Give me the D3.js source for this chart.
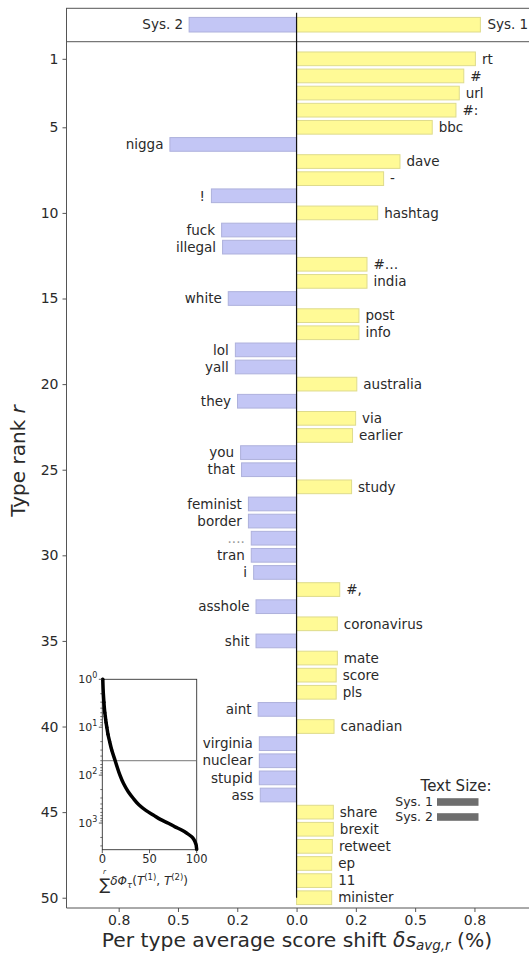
<!DOCTYPE html>
<html><head><meta charset="utf-8">
<script src="https://cdn.jsdelivr.net/npm/d3@7"></script>
<style>body{margin:0;background:#fff} text{font-family:"DejaVu Sans",sans-serif}</style>
</head><body><svg id="c" width="529" height="953"></svg>
<script>
// ---------- data ----------
const types = ["rt","#","url","#:","bbc","nigga","dave","-","!","hashtag",
  "fuck","illegal","#…","india","white","post","info","lol","yall","australia",
  "they","via","earlier","you","that","study","feminist","border","....","tran",
  "i","#,","asshole","coronavirus","shit","mate","score","pls","aint","canadian",
  "virginia","nuclear","stupid","ass","share","brexit","retweet","ep","11","minister"];
const shifts = [0.754,0.705,0.686,0.672,0.572,-0.534,0.436,0.367,-0.359,0.342,
  -0.316,-0.312,0.297,0.297,-0.288,0.263,0.263,-0.258,-0.258,0.254,
  -0.249,0.249,0.236,-0.236,-0.232,0.232,-0.203,-0.203,-0.191,-0.191,
  -0.181,0.182,-0.171,0.172,-0.171,0.172,0.167,0.167,-0.162,0.158,
  -0.157,-0.157,-0.157,-0.153,0.155,0.155,0.151,0.148,0.148,0.148];
const totalLabels = ["Sys. 2","Sys. 1"];
const totalValues = [-0.453,0.775];
const yTicks = [1,5,10,15,20,25,30,35,40,45,50];
const xTickValues = [-0.75,-0.5,-0.25,0,0.25,0.5,0.75];
const xTickLabels = ["0.8","0.5","0.2","0.0","0.2","0.5","0.8"];
const insetRanks = [1,2,3,4,5,6,7,8,10,14,20,30,49,70,100,150,222,300,420,550,680,850,1010,1200,1400,1650,1930,2200,2450,2800,3300,3550];
const insetCum   = [0.5,1.1,1.7,2.2,2.7,3.2,3.6,4.0,4.8,6.0,7.8,10.0,13.5,16.0,18.7,22.5,27.5,32.5,39.0,46.5,54.0,62.0,70.0,77.0,84.0,90.0,94.7,97.0,98.2,99.3,99.8,100];
const insetXTicks = [0,50,100];
const insetYTicks = [1,10,100,1000];
const insetCutoff = 50;
const legendTitle = "Text Size:";
const legendLabels = ["Sys. 1","Sys. 2"];

// ---------- styles ----------
const yellow = "#fffa96", yellowEdge = "#dedb8c";
const blue = "#c3c6f5", blueEdge = "#aeb1dc";
const txt = "#2a2a2a", spine = "#555";

const svg = d3.select("#c");
const L = 66.5, R = 529, T = 41.7, B = 908;
const x = d3.scaleLinear().domain([-0.97, 0.98]).range([L, R]);
const y = d3.scaleLinear().domain([0, 50.6]).range([T, B]);
const bh = y(0.8) - y(0);

// top panel
const topY0 = 8.3, topY1 = 41.7;
svg.append("rect").attr("x", L).attr("y", topY0).attr("width", R - L + 5).attr("height", topY1 - topY0)
  .attr("fill", "none").attr("stroke", spine).attr("stroke-width", 1);
const topC = (topY0 + topY1) / 2 - 0.3;
svg.selectAll(".tb").data(totalValues).join("rect")
  .attr("x", d => x(Math.min(0, d))).attr("width", d => Math.abs(x(d) - x(0)))
  .attr("y", topC - 7.3).attr("height", 14.6)
  .attr("fill", d => d > 0 ? yellow : blue).attr("stroke", d => d > 0 ? yellowEdge : blueEdge).attr("stroke-width", 1);
svg.selectAll(".tl").data(totalValues).join("text")
  .attr("x", d => d > 0 ? x(d) + 7 : x(d) - 6).attr("y", topC).attr("dy", "0.35em")
  .attr("text-anchor", d => d > 0 ? "start" : "end")
  .attr("font-size", 13.5).attr("fill", txt).text((d, i) => totalLabels[i]);

// main bars
const data = types.map((t, i) => ({t, v: shifts[i], r: i + 1}));
svg.append("g").selectAll("rect").data(data).join("rect")
  .attr("x", d => x(Math.min(0, d.v))).attr("width", d => Math.abs(x(d.v) - x(0)))
  .attr("y", d => y(d.r) - bh / 2).attr("height", bh)
  .attr("fill", d => d.v > 0 ? yellow : blue).attr("stroke", d => d.v > 0 ? yellowEdge : blueEdge).attr("stroke-width", 1);
svg.append("g").selectAll("text").data(data).join("text")
  .attr("x", d => d.v > 0 ? x(d.v) + 6.5 : x(d.v) - 6.5).attr("y", d => y(d.r)).attr("dy", "0.35em")
  .attr("text-anchor", d => d.v > 0 ? "start" : "end")
  .attr("font-size", 13.5).attr("fill", d => (d.t === "...." ? "#999" : txt)).text(d => d.t);

// zero line
svg.append("line").attr("x1", x(0)).attr("x2", x(0)).attr("y1", 12.7).attr("y2", y(50))
  .attr("stroke", "#111").attr("stroke-width", 1.2);

// spines
svg.append("line").attr("x1", L).attr("x2", L).attr("y1", T).attr("y2", B).attr("stroke", spine);
svg.append("line").attr("x1", L).attr("x2", R).attr("y1", B).attr("y2", B).attr("stroke", spine);

// y axis
const ya = svg.append("g").attr("transform", `translate(${L},0)`)
  .call(d3.axisLeft(y).tickValues(yTicks).tickSize(4).tickPadding(4));
ya.select(".domain").remove();
ya.selectAll("line").attr("stroke", spine);
ya.selectAll("text").attr("font-size", 14).attr("fill", txt).attr("font-family", "DejaVu Sans");

// x axis
const xa = svg.append("g").attr("transform", `translate(0,${B})`)
  .call(d3.axisBottom(x).tickValues(xTickValues).tickFormat((d, i) => xTickLabels[i]).tickSize(4).tickPadding(3));
xa.select(".domain").remove();
xa.selectAll("line").attr("stroke", spine);
xa.selectAll("text").attr("font-size", 14).attr("fill", txt).attr("font-family", "DejaVu Sans");

// axis titles
const xl = svg.append("text").attr("x", 297).attr("y", 946.5).attr("text-anchor", "middle")
  .attr("font-size", 20.3).attr("fill", txt);
xl.append("tspan").text("Per type average score shift ");
xl.append("tspan").attr("font-style", "italic").text("δs");
xl.append("tspan").attr("font-style", "italic").attr("font-size", 13.5).attr("dy", 3).text("avg,r");
xl.append("tspan").attr("dy", -3).text(" (%)");

const yl = svg.append("text").attr("transform", "translate(25,461) rotate(-90)").attr("text-anchor", "middle")
  .attr("font-size", 20).attr("fill", txt);
yl.append("tspan").text("Type rank ");
yl.append("tspan").attr("font-style", "italic").text("r");

// ---------- inset ----------
const iL = 102.3, iR = 196.7, iT = 679.3, iB = 849.7;
const ix = d3.scaleLinear().domain([0, 100]).range([iL, iR]);
const iy = d3.scaleLog().domain([1, 3600]).range([iT, iB]);
svg.append("rect").attr("x", iL).attr("y", iT).attr("width", iR - iL).attr("height", iB - iT)
  .attr("fill", "#fff").attr("stroke", "#333").attr("stroke-width", 0.9);
svg.append("line").attr("x1", iL).attr("x2", iR).attr("y1", iy(insetCutoff)).attr("y2", iy(insetCutoff))
  .attr("stroke", "#666").attr("stroke-width", 0.9);
const ipts = insetRanks.map((r, i) => [ix(insetCum[i]), iy(r)]);
svg.append("path").attr("d", d3.line().curve(d3.curveMonotoneY)(ipts))
  .attr("fill", "none").attr("stroke", "#000").attr("stroke-width", 3.5).attr("stroke-linecap", "round");
svg.append("g").selectAll("circle").data(ipts.slice(0, 12)).join("circle")
  .attr("cx", d => d[0]).attr("cy", d => d[1]).attr("r", 1.6).attr("fill", "#000");
// inset y minor ticks
const minor = [];
for (let e = 0; e < 4; e++) for (let k = 2; k <= 9; k++) { const v = k * Math.pow(10, e); if (v < 3600) minor.push(v); }
svg.append("g").selectAll("line").data(minor).join("line")
  .attr("x1", iL - 2).attr("x2", iL).attr("y1", d => iy(d)).attr("y2", d => iy(d)).attr("stroke", "#333").attr("stroke-width", 0.7);
svg.append("g").selectAll("line").data(insetYTicks).join("line")
  .attr("x1", iL - 3.5).attr("x2", iL).attr("y1", d => iy(d)).attr("y2", d => iy(d)).attr("stroke", "#333").attr("stroke-width", 0.8);
const iyl = svg.append("g").selectAll("text").data(insetYTicks).join("text")
  .attr("x", iL - 5).attr("y", d => iy(d)).attr("dy", "0.35em").attr("text-anchor", "end")
  .attr("font-size", 11).attr("fill", txt);
iyl.append("tspan").text("10");
iyl.append("tspan").attr("font-size", 8).attr("dy", -5).text(d => Math.round(Math.log10(d)));
// inset x ticks
svg.append("g").selectAll("line").data(insetXTicks).join("line")
  .attr("x1", d => ix(d)).attr("x2", d => ix(d)).attr("y1", iB).attr("y2", iB + 3.5).attr("stroke", "#333").attr("stroke-width", 0.8);
svg.append("g").selectAll("text").data(insetXTicks).join("text")
  .attr("x", d => ix(d)).attr("y", iB + 9).attr("dy", "0.35em").attr("text-anchor", "middle")
  .attr("font-size", 11.5).attr("fill", txt).text(d => d);
// inset x label
const il = svg.append("text").attr("x", 99.5).attr("y", 887).attr("font-size", 12).attr("fill", txt);
il.append("tspan").attr("font-size", 16).attr("dy", 3).text("∑");
il.append("tspan").attr("font-style", "italic").attr("dy", -5).text("δΦ");
il.append("tspan").attr("font-style", "italic").attr("font-size", 8.5).attr("dy", 2.5).text("τ");
il.append("tspan").attr("dy", -2.5).text("(");
il.append("tspan").attr("font-style", "italic").text("T");
il.append("tspan").attr("font-size", 8.5).attr("dy", -5).text("(1)");
il.append("tspan").attr("dy", 5).text(", ");
il.append("tspan").attr("font-style", "italic").text("T");
il.append("tspan").attr("font-size", 8.5).attr("dy", -5).text("(2)");
il.append("tspan").attr("dy", 5).text(")");
svg.append("text").attr("x", 103).attr("y", 873.5).attr("font-size", 7).attr("font-style", "italic").attr("fill", txt).text("r");

// ---------- legend ----------
svg.append("text").attr("x", 456).attr("y", 786).attr("dy", "0.35em").attr("text-anchor", "middle")
  .attr("font-size", 15).attr("fill", txt).text(legendTitle);
legendLabels.forEach((lab, i) => {
  const cy = 802 + i * 15;
  svg.append("text").attr("x", 433).attr("y", cy).attr("dy", "0.35em").attr("text-anchor", "end")
    .attr("font-size", 12.5).attr("fill", txt).text(lab);
  svg.append("rect").attr("x", 437).attr("y", cy - 3.8).attr("width", 41.5).attr("height", 7.6).attr("fill", "#6e6e6e");
});
</script></body></html>
